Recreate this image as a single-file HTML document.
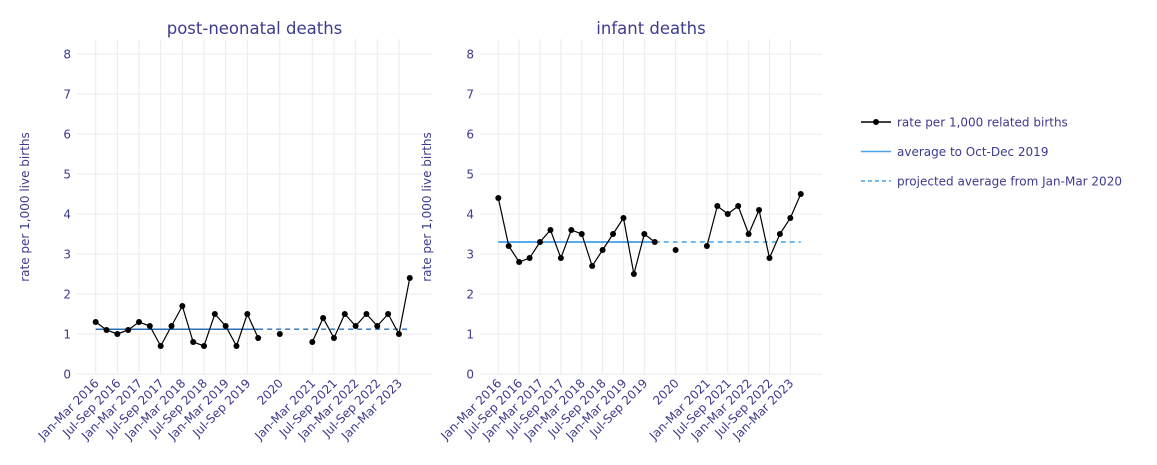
<!DOCTYPE html>
<html><head><meta charset="utf-8"><style>
body{margin:0;background:#fff;}
svg{display:block;font-family:"DejaVu Sans","Liberation Sans",sans-serif;}
</style></head><body>
<svg id="c" width="1157" height="465"></svg>
<script>
const tickIdx=[0,2,4,6,8,10,12,14,17,20,22,24,26,28];
const tickLabels=["Jan-Mar 2016","Jul-Sep 2016","Jan-Mar 2017","Jul-Sep 2017","Jan-Mar 2018","Jul-Sep 2018","Jan-Mar 2019","Jul-Sep 2019","2020","Jan-Mar 2021","Jul-Sep 2021","Jan-Mar 2022","Jul-Sep 2022","Jan-Mar 2023"];
const preIdx=[0,1,2,3,4,5,6,7,8,9,10,11,12,13,14,15];
const postIdx=[20,21,22,23,24,25,26,27,28,29];
const idx2020=17;
const pnPre=[1.3,1.1,1.0,1.1,1.3,1.2,0.7,1.2,1.7,0.8,0.7,1.5,1.2,0.7,1.5,0.9];
const pn2020=1.0;
const pnPost=[0.8,1.4,0.9,1.5,1.2,1.5,1.2,1.5,1.0,2.4];
const pnAvg=1.12;
const inPre=[4.4,3.2,2.8,2.9,3.3,3.6,2.9,3.6,3.5,2.7,3.1,3.5,3.9,2.5,3.5,3.3];
const in2020=3.1;
const inPost=[3.2,4.2,4.0,4.2,3.5,4.1,2.9,3.5,3.9,4.5];
const inAvg=3.3;
const yTicks=[0,1,2,3,4,5,6,7,8];

const NS="http://www.w3.org/2000/svg";
const svg=document.getElementById('c');
const TXT="#3d3b8e";
function mk(t,a,p){const e=document.createElementNS(NS,t);for(const k in a)e.setAttribute(k,a[k]);(p||svg).appendChild(e);return e;}

function panel(name,x0,step,left,right,title,pre,v2020,post,avg,avgColor){
  const g=mk('g',{});
  
  
  const X=i=>x0+i*step, Y=v=>374-v*40;
  yTicks.forEach(t=>{
    const l=mk('line',{x1:left,x2:right,y1:Y(t),y2:Y(t),stroke:'#ebebeb','stroke-width':1},g);
    
    
    const tx=mk('text',{x:left-6,y:Y(t)+4.5,'text-anchor':'end','font-size':12,fill:TXT},g);
    
    
    tx.textContent=t;
  });
  tickIdx.forEach((ti,k)=>{
    const l=mk('line',{x1:X(ti),x2:X(ti),y1:39,y2:374,stroke:'#ebebeb','stroke-width':1},g);
    
    
    const tx=mk('text',{x:X(ti)+4,y:384,'text-anchor':'end','font-size':12,fill:TXT,transform:`rotate(-45 ${X(ti)+4} 384)`},g);
    
    
    tx.textContent=tickLabels[k];
  });
  const tt=mk('text',{x:(left+right)/2,y:34,'text-anchor':'middle','font-size':16.5,fill:TXT},g);
  
  
  tt.textContent=title;
  const a1=mk('line',{x1:X(0),x2:X(15),y1:Y(avg),y2:Y(avg),stroke:avgColor,'stroke-width':1.5},g);
  
  
  const a2=mk('line',{x1:X(15),x2:X(29),y1:Y(avg),y2:Y(avg),stroke:avgColor,'stroke-width':1.3,'stroke-dasharray':'5,4'},g);
  
  
  [[preIdx,pre],[postIdx,post]].forEach(([ix,vals])=>{
    const p=mk('polyline',{points:vals.map((v,i)=>X(ix[i])+','+Y(v)).join(' '),fill:'none',stroke:'#000','stroke-width':1.2},g);
    
    
    vals.forEach((v,i)=>{
      const c=mk('circle',{cx:X(ix[i]),cy:Y(v),r:3,fill:'#000'},g);
      
      
    });
  });
  const c=mk('circle',{cx:X(idx2020),cy:Y(v2020),r:3,fill:'#000'},g);
  
  
}
panel('post-neonatal',95.7,10.83,77,432,'post-neonatal deaths',pnPre,pn2020,pnPost,pnAvg,'#2a6db5');
panel('infant',498.3,10.43,480,822,'infant deaths',inPre,in2020,inPost,inAvg,'#1e8fe6');

[[29,'left'],[431,'right']].forEach(([x,s])=>{
  const t=mk('text',{x:x,y:207,'text-anchor':'middle','font-size':12,fill:TXT,transform:`rotate(-90 ${x} 207)`});
  
  
  t.textContent='rate per 1,000 live births';
});

const lg=mk('g',{});


const items=[['rate per 1,000 related births','#000',null,true],['average to Oct-Dec 2019','#4aa3ee',null,false],['projected average from Jan-Mar 2020','#4aa3ee','4,3',false]];
items.forEach((it,k)=>{
  const y=122+k*29.5;
  const gi=mk('g',{},lg);
  
  
  const a={x1:861,x2:891,y1:y,y2:y,stroke:it[1],'stroke-width':1.5};
  if(it[2])a['stroke-dasharray']=it[2];
  mk('line',a,gi);
  if(it[3])mk('circle',{cx:876,cy:y,r:3,fill:'#000'},gi);
  const t=mk('text',{x:897,y:y+4.5,'font-size':12,fill:TXT},gi);
  t.textContent=it[0];
});
</script>
</body></html>
